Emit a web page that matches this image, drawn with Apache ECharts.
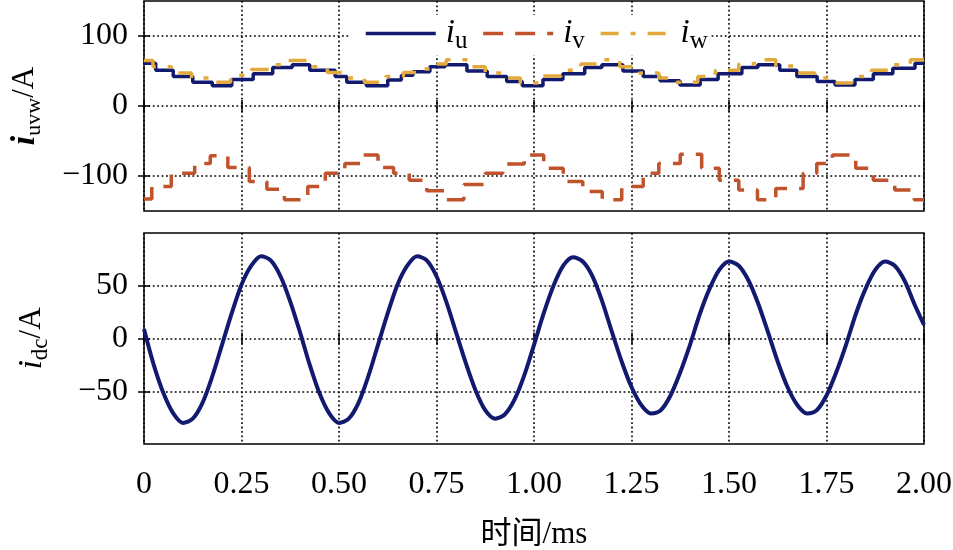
<!DOCTYPE html>
<html>
<head>
<meta charset="utf-8">
<script src="https://cdn.jsdelivr.net/npm/echarts@6/dist/echarts.min.js"></script>
<style>
html,body{margin:0;padding:0;background:#fff;}
#main{width:953px;height:550px;}
</style>
</head>
<body>
<div id="main"></div>
<script>
// ---------- data ----------
const xTickLabels = ['0','0.25','0.50','0.75','1.00','1.25','1.50','1.75','2.00'];
const topTickValues = [-100, 0, 100];
const topTickLabels = ['\u2212100', '0', '100'];
const bottomTickValues = [-50, 0, 50];
const bottomTickLabels = ['\u221250', '0', '50'];

// i_u : stepped phase current (time of each level start, level)
const iuTime = [0, 0.03, 0.075, 0.125, 0.175, 0.225, 0.28, 0.33, 0.38, 0.425, 0.49, 0.52, 0.57, 0.625, 0.66, 0.69, 0.733, 0.772, 0.828, 0.88, 0.93, 0.97, 1.023, 1.074, 1.13, 1.174, 1.228, 1.28, 1.323, 1.374, 1.426, 1.472, 1.533, 1.574, 1.63, 1.674, 1.726, 1.772, 1.823, 1.87, 1.92, 1.977, 2.0];
const iuValue = [61, 51, 42, 34, 29, 38, 46, 55, 59, 51, 42, 34, 29, 37, 44, 49, 56, 59, 50, 42, 35, 29, 38, 46, 55, 59, 50, 42, 36, 30, 38, 46, 55, 59, 51, 42, 35, 30, 38, 46, 54, 61, 61];

// i_v
const ivTime = [0, 0.02, 0.07, 0.13, 0.17, 0.215, 0.27, 0.315, 0.36, 0.42, 0.465, 0.515, 0.555, 0.6, 0.64, 0.68, 0.725, 0.775, 0.82, 0.875, 0.92, 0.975, 1.025, 1.075, 1.125, 1.175, 1.225, 1.28, 1.32, 1.375, 1.43, 1.475, 1.525, 1.573, 1.62, 1.69, 1.725, 1.765, 1.825, 1.87, 1.925, 1.975, 2.0];
const ivValue = [-133, -115, -96, -82, -71, -88, -108, -119, -134, -115, -96, -82, -70, -88, -96, -106, -121, -134, -112, -96, -83, -70, -89, -108, -122, -134, -115, -96, -82, -69, -89, -106, -120, -134, -118, -96, -82, -70, -89, -106, -120, -134, -134];

// i_w
const iwTime = [0, 0.023, 0.07, 0.122, 0.174, 0.222, 0.275, 0.325, 0.37, 0.42, 0.47, 0.515, 0.565, 0.62, 0.665, 0.7, 0.74, 0.775, 0.83, 0.875, 0.925, 0.965, 1.02, 1.07, 1.12, 1.165, 1.22, 1.27, 1.32, 1.365, 1.42, 1.465, 1.525, 1.565, 1.62, 1.665, 1.72, 1.765, 1.815, 1.865, 1.915, 1.965, 2.0];
const iwValue = [65, 56, 47, 40, 34, 44, 52, 59, 65, 56, 48, 40, 34, 42, 48, 53, 60, 66, 56, 47, 40, 33, 43, 51, 60, 66, 56, 47, 40, 34, 42, 51, 60, 66, 57, 47, 40, 33, 42, 51, 59, 66, 66];

// i_dc
const idcTime = [0, 0.025, 0.05, 0.075, 0.1, 0.125, 0.15, 0.175, 0.2, 0.225, 0.25, 0.275, 0.3, 0.325, 0.35, 0.375, 0.4, 0.425, 0.45, 0.475, 0.5, 0.525, 0.55, 0.575, 0.6, 0.625, 0.65, 0.675, 0.7, 0.725, 0.75, 0.775, 0.8, 0.825, 0.85, 0.875, 0.9, 0.925, 0.95, 0.975, 1.0, 1.025, 1.05, 1.075, 1.1, 1.125, 1.15, 1.175, 1.2, 1.225, 1.25, 1.275, 1.3, 1.325, 1.35, 1.375, 1.4, 1.425, 1.45, 1.475, 1.5, 1.525, 1.55, 1.575, 1.6, 1.625, 1.65, 1.675, 1.7, 1.725, 1.75, 1.775, 1.8, 1.825, 1.85, 1.875, 1.9, 1.925, 1.95, 1.975, 2.0];
const idcValue = [9, -25, -52, -71, -80, -76, -61, -36, -6, 24, 51, 69, 78, 74, 59, 35, 6, -25, -52, -71, -80, -76, -61, -36, -6, 24, 51, 69, 78, 74, 59, 35, 6, -23, -49, -68, -76, -72, -58, -35, -6, 24, 50, 69, 77, 73, 59, 35, 6, -22, -46, -63, -71, -68, -54, -32, -6, 23, 47, 65, 73, 69, 55, 33, 6, -22, -46, -63, -71, -68, -54, -32, -6, 23, 47, 65, 73, 69, 55, 33, 13];

const legendNames = {u: 'u', v: 'v', w: 'w'};

// ---------- chart ----------
const zip = (a, b) => a.map((t, i) => [t, b[i]]);
const FONT = "'Liberation Serif', 'Times New Roman', serif";
const CJK = "'Liberation Serif', 'Noto Sans CJK SC', serif";
const TICK_FS = 32;
const gridLine = {show: true, lineStyle: {color: '#000', width: 1.6, type: [1.8, 2.6]}};

function xAx(gridIndex, pos, opts) {
  return Object.assign({
    type: 'value', gridIndex: gridIndex, position: pos, min: 0, max: 2, interval: 0.25,
    axisLine: {show: false},
    axisTick: {show: true, inside: true, length: 6, lineStyle: {color: '#000', width: 1.5}},
    axisLabel: {show: false},
    splitLine: {show: false}
  }, opts || {});
}
function yAx(gridIndex, pos, min, max, vals, opts) {
  return Object.assign({
    type: 'value', gridIndex: gridIndex, position: pos, min: min, max: max, interval: 50,
    axisLine: {show: false},
    axisTick: {show: true, inside: true, length: 6, customValues: vals, lineStyle: {color: '#000', width: 1.5}},
    axisLabel: {show: false, customValues: vals},
    splitLine: {show: false}
  }, opts || {});
}

const chart = echarts.init(document.getElementById('main'), null, {renderer: 'canvas'});
chart.setOption({
  animation: false,
  backgroundColor: '#fff',
  textStyle: {fontFamily: FONT},
  grid: [
    {left: 144, right: 29, top: 1, height: 210, show: true, borderColor: '#000', borderWidth: 1.5, backgroundColor: 'rgba(0,0,0,0)', containLabel: false, outerBoundsMode: 'none'},
    {left: 144, right: 29, top: 233, height: 211, show: true, borderColor: '#000', borderWidth: 1.5, backgroundColor: 'rgba(0,0,0,0)', containLabel: false, outerBoundsMode: 'none'}
  ],
  xAxis: [
    xAx(0, 'bottom', {splitLine: gridLine}),
    xAx(0, 'top'),
    xAx(1, 'bottom', {
      splitLine: gridLine,
      axisLabel: {show: true, margin: 25, fontSize: TICK_FS, color: '#000', fontFamily: FONT,
        formatter: function (v) { return xTickLabels[Math.round(v / 0.25)]; }},
      name: '时间/ms', nameLocation: 'middle', nameGap: 75,
      nameTextStyle: {fontSize: 31, color: '#000', fontFamily: CJK}
    }),
    xAx(1, 'top')
  ],
  yAxis: [
    yAx(0, 'left', -150, 150, topTickValues, {
      splitLine: gridLine,
      axisLabel: {show: true, customValues: topTickValues, margin: 16, fontSize: TICK_FS, color: '#000', fontFamily: FONT,
        formatter: function (v) { const i = topTickValues.indexOf(v); return i >= 0 ? topTickLabels[i] : ''; }},
      name: '{b|i}{s|uvw}{n|/A}', nameLocation: 'middle', nameRotate: 90, nameGap: 99,
      nameTextStyle: {color: '#000', fontFamily: FONT, rich: {
        b: {fontSize: 34, fontWeight: 'bold', fontStyle: 'italic', fontFamily: FONT, lineHeight: 40, color: '#000'},
        s: {fontSize: 22, fontFamily: FONT, lineHeight: 22, verticalAlign: 'bottom', color: '#000'},
        n: {fontSize: 31, fontFamily: FONT, lineHeight: 40, color: '#000'}
      }}
    }),
    yAx(0, 'right', -150, 150, topTickValues),
    yAx(1, 'left', -100, 100, bottomTickValues, {
      splitLine: gridLine,
      axisLabel: {show: true, customValues: bottomTickValues, margin: 16, fontSize: TICK_FS, color: '#000', fontFamily: FONT,
        formatter: function (v) { const i = bottomTickValues.indexOf(v); return i >= 0 ? bottomTickLabels[i] : ''; }},
      name: '{b|i}{s|dc}{n|/A}', nameLocation: 'middle', nameRotate: 90, nameGap: 92,
      nameTextStyle: {color: '#000', fontFamily: FONT, rich: {
        b: {fontSize: 34, fontStyle: 'italic', fontFamily: FONT, lineHeight: 40, color: '#000'},
        s: {fontSize: 23, fontFamily: FONT, lineHeight: 22, verticalAlign: 'bottom', color: '#000'},
        n: {fontSize: 31, fontFamily: FONT, lineHeight: 40, color: '#000'}
      }}
    }),
    yAx(1, 'right', -100, 100, bottomTickValues)
  ],
  legend: {
    show: true, left: 350, top: 15, orient: 'horizontal',
    itemWidth: 70, itemHeight: 14, itemGap: 14,
    backgroundColor: '#fff', padding: [2, 2, 2, 14],
    selectedMode: false,
    itemStyle: {opacity: 0},
    lineStyle: {width: 3.5},
    data: ['u', 'v', 'w'],
    formatter: function (name) { return '{i|i}{s|' + legendNames[name] + '}'; },
    textStyle: {color: '#000', fontFamily: FONT, padding: [0, 0, 0, 5], rich: {
      i: {fontSize: 33, fontStyle: 'italic', fontFamily: FONT, lineHeight: 40, color: '#000'},
      s: {fontSize: 25, fontFamily: FONT, lineHeight: 24, verticalAlign: 'bottom', color: '#000'}
    }}
  },
  series: [
    {name: 'u', type: 'line', xAxisIndex: 0, yAxisIndex: 0, step: 'end', symbol: 'none', data: zip(iuTime, iuValue),
      lineStyle: {color: '#111a6e', width: 3.5}, itemStyle: {color: '#111a6e'}, z: 3},
    {name: 'v', type: 'line', xAxisIndex: 0, yAxisIndex: 0, step: 'end', symbol: 'none', data: zip(ivTime, ivValue),
      lineStyle: {color: '#c0532b', width: 3.5, type: [20, 12]}, itemStyle: {color: '#c0532b'}, z: 4},
    {name: 'w', type: 'line', xAxisIndex: 0, yAxisIndex: 0, step: 'end', symbol: 'none', data: zip(iwTime, iwValue),
      lineStyle: {color: '#e2aa3c', width: 3.5, type: [18, 12, 5, 12]}, itemStyle: {color: '#e2aa3c'}, z: 5},
    {name: 'dc', type: 'line', xAxisIndex: 2, yAxisIndex: 2, smooth: 0.3, symbol: 'none', data: zip(idcTime, idcValue),
      lineStyle: {color: '#111a6e', width: 4}, itemStyle: {color: '#111a6e'}, z: 3}
  ]
});
</script>
</body>
</html>
